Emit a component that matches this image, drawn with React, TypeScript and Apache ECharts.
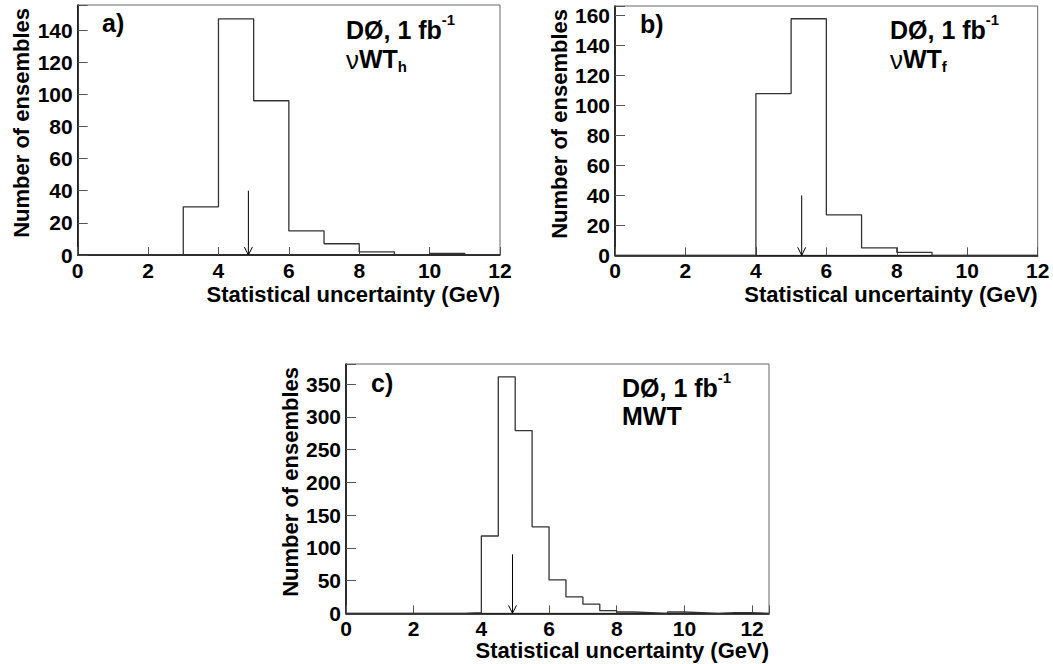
import React, { useEffect, useRef } from "react";
import * as echarts from "echarts";

// ---- data ----
const binsA = [0, 0, 0, 30, 147, 96, 15, 7, 2, 0, 1, 0]; // width 1 GeV, from 0
const binsB = [0, 0, 0, 0, 108, 158, 27, 5, 2, 0, 0, 0]; // width 1 GeV, from 0
const binsC = [0, 0, 0, 0, 0, 0, 0, 1, 118, 361, 279, 132, 51, 25, 14, 4, 2, 1, 0, 2, 1, 0, 1, 1, 0]; // width 0.5 GeV
const binWidths = [1, 1, 0.5];
const xMaxes = [12, 12, 12.5];
const yMaxes = [155.6, 166.5, 380.6];
const yIntervals = [20, 20, 50];
const xTicks = [0, 2, 4, 6, 8, 10, 12];
const arrowX = [4.85, 5.3, 4.92];
const arrowH = [40, 40, 90];
const panelLabels = ["a)", "b)", "c)"];
const methodLabels = ["νWT_h", "νWT_f", "MWT"];
const xTitle = "Statistical uncertainty (GeV)";
const yTitle = "Number of ensembles";
const expLabel = "DØ, 1 fb";

const FONT = "Liberation Sans";

function stepData(vals: number[], width: number) {
  const d = vals.map((v, i) => [i * width, v]);
  d.push([vals.length * width, vals[vals.length - 1]]);
  return d;
}

const tickRich = {
  b: { fontFamily: FONT, fontWeight: 700, fontSize: 21, color: "#000" },
};

export default function App() {
  const ref = useRef<HTMLDivElement>(null);
  useEffect(() => {
    if (!ref.current) return;
    const chart = echarts.init(ref.current, undefined, { renderer: "svg" });

    const grids = [
      { left: 77.7, top: 5, width: 422.3, height: 250 },
      { left: 615, top: 6, width: 422.7, height: 249.3 },
      { left: 346, top: 364, width: 423, height: 249.3 },
    ];
    const allBins = [binsA, binsB, binsC];

    const xAxis = grids.map((_, i) => ({
      type: "value",
      gridIndex: i,
      min: 0,
      max: xMaxes[i],
      interval: 2,
      axisLine: { show: true, lineStyle: { color: "#000", width: 1.5 } },
      axisTick: { show: true, inside: true, length: 8, lineStyle: { color: "#555", width: 1 } },
      splitLine: { show: false },
      axisLabel: {
        margin: 5,
        color: "#000",
        fontFamily: FONT,
        fontWeight: 700,
        fontSize: 21,
        rich: tickRich,
        formatter: (v: number) => (xTicks.indexOf(v) >= 0 ? `{b|${v}}` : ""),
      },
    }));
    const yAxis = grids.map((_, i) => ({
      type: "value",
      gridIndex: i,
      min: 0,
      max: yMaxes[i],
      interval: yIntervals[i],
      axisLine: { show: true, lineStyle: { color: "#000", width: 1.5 } },
      axisTick: { show: true, inside: true, length: 10, lineStyle: { color: "#555", width: 1 } },
      splitLine: { show: false },
      axisLabel: {
        margin: 5,
        color: "#000",
        fontFamily: FONT,
        fontWeight: 700,
        fontSize: 21,
        rich: tickRich,
        formatter: (v: number) => (Math.abs(v % yIntervals[i]) < 1e-9 ? `{b|${v}}` : ""),
      },
    }));

    const series: any[] = [];
    allBins.forEach((bins, i) => {
      series.push({
        type: "line",
        xAxisIndex: i,
        yAxisIndex: i,
        step: "end",
        symbol: "none",
        data: stepData(bins, binWidths[i]),
        lineStyle: { color: "#333", width: 1.3 },
        silent: true,
      });
      series.push({
        type: "custom",
        xAxisIndex: i,
        yAxisIndex: i,
        encode: { x: 0, y: 1 },
        data: [[arrowX[i], arrowH[i]]],
        renderItem: (_p: any, api: any) => {
          const x = api.value(0);
          const h = api.value(1);
          const top = api.coord([x, h]);
          const bot = api.coord([x, 0]);
          return {
            type: "group",
            children: [
              {
                type: "line",
                shape: { x1: top[0], y1: top[1], x2: bot[0], y2: bot[1] },
                style: { stroke: "#000", lineWidth: 1 },
              },
              {
                type: "polyline",
                shape: {
                  points: [
                    [bot[0] - 4, bot[1] - 8],
                    [bot[0], bot[1]],
                    [bot[0] + 4, bot[1] - 8],
                  ],
                },
                style: { stroke: "#000", fill: null, lineWidth: 1 },
              },
            ],
          };
        },
      });
    });

    const txt = (x: number, y: number, text: string, extra: any = {}) => ({
      type: "text",
      x,
      y,
      silent: true,
      style: {
        text,
        fill: "#000",
        fontFamily: FONT,
        fontWeight: "bold",
        fontSize: 22,
        verticalAlign: "middle",
        ...extra,
      },
    });

    const expRich = {
      m: { fontFamily: FONT, fontWeight: "bold", fontSize: 25, lineHeight: 30, verticalAlign: "bottom" },
      s: { fontFamily: FONT, fontWeight: "bold", fontSize: 15, lineHeight: 16, verticalAlign: "top" },
    };
    const methRich = {
      nu: { fontFamily: FONT, fontWeight: "normal", fontSize: 26, lineHeight: 27, verticalAlign: "top" },
      m: { fontFamily: FONT, fontWeight: "bold", fontSize: 25, lineHeight: 27, verticalAlign: "top" },
      sub: { fontFamily: FONT, fontWeight: "bold", fontSize: 15, lineHeight: 15, verticalAlign: "bottom" },
    };
    const methText = (s: string) => {
      if (s.startsWith("ν")) {
        const parts = s.slice(1).split("_");
        return `{nu|ν}{m|${parts[0]}}{sub|${parts[1]}}`;
      }
      return `{m|${s}}`;
    };

    const textPos = [
      { lab: [102, 23], exp: [346, 27], meth: [346, 60], meth2h: 34 },
      { lab: [640, 24], exp: [890, 27], meth: [890, 60], meth2h: 34 },
      { lab: [371, 383], exp: [622, 385], meth: [622, 417], meth2h: 27 },
    ];
    const graphics: any[] = [];
    textPos.forEach((p, i) => {
      const g = grids[i];
      graphics.push(txt(p.lab[0], p.lab[1], panelLabels[i], { fontSize: 25 }));
      graphics.push(
        txt(p.exp[0], p.exp[1], `{m|${expLabel}}{s|-1}`, { rich: expRich, fontSize: 25 })
      );
      graphics.push(
        txt(p.meth[0], p.meth[1], methText(methodLabels[i]), {
          rich: methRich,
          fontSize: 25,
          lineHeight: p.meth2h,
        })
      );
      // x title, right aligned to the frame
      graphics.push(
        txt(g.left + g.width, g.top + g.height + (i === 2 ? 37.5 : 39), xTitle, { align: "right", fontSize: 22 })
      );
      // y title, rotated, ending at frame top
      graphics.push({
        type: "text",
        x: g.left - 56,
        y: g.top + 3,
        rotation: Math.PI / 2,
        silent: true,
        style: {
          text: yTitle,
          fill: "#000",
          fontFamily: FONT,
          fontWeight: "bold",
          fontSize: 22,
          align: "right",
          verticalAlign: "middle",
        },
      });
    });

    chart.setOption({
      animation: false,
      backgroundColor: "#fff",
      grid: grids.map((g) => ({ ...g, show: true, borderColor: "#666", borderWidth: 1, backgroundColor: "transparent" })),
      xAxis,
      yAxis,
      series,
      graphic: graphics,
    });
    return () => chart.dispose();
  }, []);
  return (
    <div
      ref={ref}
      style={{ position: "fixed", left: 0, top: 0, width: 1053, height: 664, background: "#fff" }}
    />
  );
}
